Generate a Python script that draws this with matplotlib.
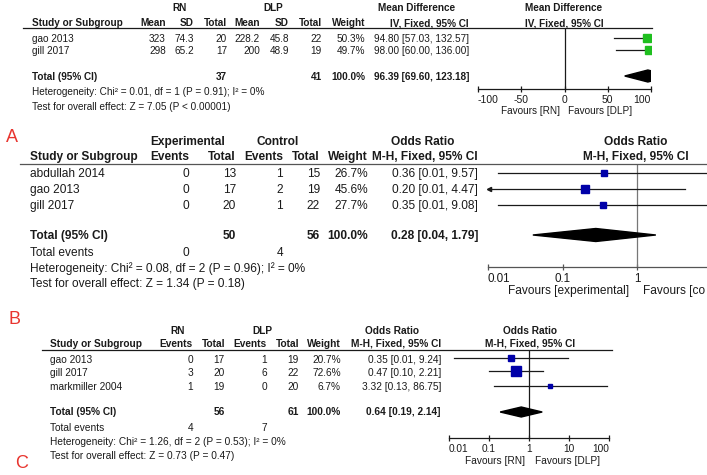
import numpy as np
import matplotlib.pyplot as plt
from matplotlib.lines import Line2D

plt.rcParams['font.family'] = ['Liberation Sans', 'DejaVu Sans']

W, H = 707, 475

# Panel A: mean difference, RN vs DLP
a_studies = ['gao 2013', 'gill 2017']
a_rn_mean = ['323', '298']
a_rn_sd = ['74.3', '65.2']
a_rn_n = [20, 17]
a_dlp_mean = ['228.2', '200']
a_dlp_sd = ['45.8', '48.9']
a_dlp_n = [22, 19]
a_weight = [50.3, 49.7]
a_est = [94.80, 98.00]
a_lo = [57.03, 60.00]
a_hi = [132.57, 136.00]
a_total = [96.39, 69.60, 123.18]
a_het = 'Heterogeneity: Chi² = 0.01, df = 1 (P = 0.91); I² = 0%'
a_test = 'Test for overall effect: Z = 7.05 (P < 0.00001)'
a_ticks = [-100, -50, 0, 50, 100]
a_ticklabels = ['-100', '-50', '0', '50', '100']

# Panel B: odds ratio, experimental vs control
b_studies = ['abdullah 2014', 'gao 2013', 'gill 2017']
b_exp_events = [0, 0, 0]
b_exp_n = [13, 17, 20]
b_ctl_events = [1, 2, 1]
b_ctl_n = [15, 19, 22]
b_weight = [26.7, 45.6, 27.7]
b_est = [0.36, 0.20, 0.35]
b_lo = [0.0136, 0.009, 0.0136]
b_hi = [9.57, 4.47, 9.08]
b_total = [0.28, 0.04, 1.79]
b_het = 'Heterogeneity: Chi² = 0.08, df = 2 (P = 0.96); I² = 0%'
b_test = 'Test for overall effect: Z = 1.34 (P = 0.18)'
b_ticks = [0.01, 0.1, 1]          # 10 and 100 fall outside the cropped picture
b_ticklabels = ['0.01', '0.1', '1']

# Panel C: odds ratio, RN vs DLP
c_studies = ['gao 2013', 'gill 2017', 'markmiller 2004']
c_rn_events = [0, 3, 1]
c_rn_n = [17, 20, 19]
c_dlp_events = [1, 6, 0]
c_dlp_n = [19, 22, 20]
c_weight = [20.7, 72.6, 6.7]
c_est = [0.35, 0.47, 3.32]
c_lo = [0.0133, 0.10, 0.13]
c_hi = [9.24, 2.21, 86.75]
c_total = [0.64, 0.19, 2.14]
c_het = 'Heterogeneity: Chi² = 1.26, df = 2 (P = 0.53); I² = 0%'
c_test = 'Test for overall effect: Z = 0.73 (P = 0.47)'
c_ticks = [0.01, 0.1, 1, 10, 100]
c_ticklabels = ['0.01', '0.1', '1', '10', '100']

fig = plt.figure(figsize=(W / 100, H / 100), dpi=100)
fig.patch.set_facecolor('white')
INK = '#1a1a1a'


def txt(x, y, s, ha='left', bold=False, size=7.3, color=INK):
    fig.text(x / W, 1 - y / H, s, ha=ha, va='center', fontsize=size,
             fontweight='bold' if bold else 'normal', color=color)


def hline(x0, x1, y, color=INK, lw=0.9):
    fig.add_artist(Line2D([x0 / W, x1 / W], [1 - y / H, 1 - y / H], color=color, lw=lw))


def ci_text(est, lo, hi, dec=2):
    return f'{est:.{dec}f} [{lo:.{dec}f}, {hi:.{dec}f}]'


def forest(x0, x1, y_top, y_bot, xlim, ticks, labels, rows, est, lo, hi, weight,
           total, total_y, sq_color, line_color=INK, null_color=INK, log=False,
           tick_size=7.3, diamond_h=12, sq_k=1.15, align_last=True):
    ax = fig.add_axes([x0 / W, 1 - y_bot / H, (x1 - x0) / W, (y_bot - y_top) / H])
    ax.patch.set_alpha(0)
    if log:
        ax.set_xscale('log')
    ax.set_xlim(xlim)
    ax.set_ylim(y_bot, y_top)
    for s in ['top', 'left', 'right']:
        ax.spines[s].set_visible(False)
    ax.spines['bottom'].set_color(line_color)
    ax.spines['bottom'].set_linewidth(0.9)
    ax.set_yticks([])
    ax.set_xticks(ticks)
    ax.set_xticklabels(labels)
    ax.minorticks_off()
    ax.tick_params(axis='x', direction='inout', length=5, width=0.9, pad=2,
                   labelsize=tick_size, colors=line_color, labelcolor=INK)
    # end labels sit inside the scale, as RevMan draws them
    tl = ax.get_xticklabels()
    tl[0].set_ha('left')
    if align_last:
        tl[-1].set_ha('right')
    null = 1 if log else 0
    ax.axvline(null, color=null_color, lw=0.9)
    for y, e, l, h, w in zip(rows, est, lo, hi, weight):
        yy = y - 1.5
        ax.plot([l, h], [yy, yy], color=INK, lw=0.9)
        if l < xlim[0]:
            ax.plot(xlim[0] * (1.04 if log else 1), yy, marker='<', ms=3, color=INK,
                    clip_on=False)
        ax.plot(e, yy, marker='s', ms=sq_k * np.sqrt(w) * 0.72, color=sq_color,
                mec=sq_color, zorder=3)
    te, tlo, thi = total
    ax.fill([tlo, te, thi, te], [total_y, total_y - diamond_h / 2, total_y,
                                 total_y + diamond_h / 2], color='black', zorder=3)
    return ax


# ---------------- Panel A ----------------
fa = 7.2
txt(179, 8, 'RN', 'center', True, fa)
txt(273, 8, 'DLP', 'center', True, fa)
txt(417, 8, 'Mean Difference', 'center', True, fa)
txt(564, 8, 'Mean Difference', 'center', True, fa)
txt(32, 23, 'Study or Subgroup', 'left', True, fa)
for x, s in zip([166, 194, 227, 260, 289, 322, 365],
                ['Mean', 'SD', 'Total', 'Mean', 'SD', 'Total', 'Weight']):
    txt(x, 23, s, 'right', True, fa)
txt(469, 23, 'IV, Fixed, 95% CI', 'right', True, fa)
txt(564, 23, 'IV, Fixed, 95% CI', 'center', True, fa)
hline(23, 652, 28)
a_rows = [39, 51]
for i, y in enumerate(a_rows):
    txt(32, y, a_studies[i], size=fa)
    txt(166, y, a_rn_mean[i], 'right', size=fa)
    txt(194, y, a_rn_sd[i], 'right', size=fa)
    txt(227, y, str(a_rn_n[i]), 'right', size=fa)
    txt(260, y, a_dlp_mean[i], 'right', size=fa)
    txt(289, y, a_dlp_sd[i], 'right', size=fa)
    txt(322, y, str(a_dlp_n[i]), 'right', size=fa)
    txt(365, y, f'{a_weight[i]:.1f}%', 'right', size=fa)
    txt(469, y, ci_text(a_est[i], a_lo[i], a_hi[i]), 'right', size=fa)
txt(32, 77, 'Total (95% CI)', bold=True, size=fa)
txt(227, 77, str(sum(a_rn_n)), 'right', True, fa)
txt(322, 77, str(sum(a_dlp_n)), 'right', True, fa)
txt(365, 77, f'{sum(a_weight):.1f}%', 'right', True, fa)
txt(469, 77, ci_text(*a_total), 'right', True, fa)
txt(32, 92, a_het, size=fa)
txt(32, 107, a_test, size=fa)
forest(478, 651, 28, 89, (-100, 100), a_ticks, a_ticklabels, a_rows, a_est, a_lo,
       a_hi, a_weight, a_total, 76, '#1fbf1f', tick_size=7.5, diamond_h=12)
txt(560, 111, 'Favours [RN]', 'right', size=fa)
txt(568, 111, 'Favours [DLP]', 'left', size=fa)

# ---------------- Panel B ----------------
fb = 8.6
GREY = '#555555'
txt(188, 142, 'Experimental', 'center', True, fb)
txt(278, 142, 'Control', 'center', True, fb)
txt(423, 142, 'Odds Ratio', 'center', True, fb)
txt(636, 142, 'Odds Ratio', 'center', True, fb)
txt(30, 157, 'Study or Subgroup', 'left', True, fb)
for x, s in zip([189, 236, 283, 320, 368],
                ['Events', 'Total', 'Events', 'Total', 'Weight']):
    txt(x, 157, s, 'right', True, fb)
txt(478, 157, 'M-H, Fixed, 95% CI', 'right', True, fb)
txt(636, 157, 'M-H, Fixed, 95% CI', 'center', True, fb)
hline(20, 707, 164, GREY)
b_rows = [174, 190, 206]
for i, y in enumerate(b_rows):
    txt(30, y, b_studies[i], size=fb)
    txt(189, y, str(b_exp_events[i]), 'right', size=fb)
    txt(236, y, str(b_exp_n[i]), 'right', size=fb)
    txt(283, y, str(b_ctl_events[i]), 'right', size=fb)
    txt(320, y, str(b_ctl_n[i]), 'right', size=fb)
    txt(368, y, f'{b_weight[i]:.1f}%', 'right', size=fb)
    txt(478, y, ci_text(b_est[i], b_lo[i], b_hi[i]), 'right', size=fb)
txt(30, 236, 'Total (95% CI)', bold=True, size=fb)
txt(236, 236, str(sum(b_exp_n)), 'right', True, fb)
txt(320, 236, str(sum(b_ctl_n)), 'right', True, fb)
txt(368, 236, f'{sum(b_weight):.1f}%', 'right', True, fb)
txt(478, 236, ci_text(*b_total), 'right', True, fb)
txt(30, 253, 'Total events', size=fb)
txt(189, 253, str(sum(b_exp_events)), 'right', size=fb)
txt(283, 253, str(sum(b_ctl_events)), 'right', size=fb)
txt(30, 269, b_het, size=fb)
txt(30, 284, b_test, size=fb)
forest(488, 786, 164, 267, (0.01, 100), b_ticks, b_ticklabels, b_rows, b_est, b_lo,
       b_hi, b_weight, b_total, 235, '#0000a8', line_color=GREY, null_color='#777777',
       log=True, tick_size=8.4, diamond_h=13, align_last=False)
txt(629, 291, 'Favours [experimental]', 'right', size=fb)
txt(643, 291, 'Favours [co', 'left', size=fb)   # cropped in the source image

# ---------------- Panel C ----------------
fc = 7.3
txt(178, 331, 'RN', 'center', True, fc)
txt(262, 331, 'DLP', 'center', True, fc)
txt(392, 331, 'Odds Ratio', 'center', True, fc)
txt(530, 331, 'Odds Ratio', 'center', True, fc)
txt(50, 344, 'Study or Subgroup', 'left', True, fc)
for x, s in zip([193, 225, 267, 299, 341],
                ['Events', 'Total', 'Events', 'Total', 'Weight']):
    txt(x, 344, s, 'right', True, fc)
txt(441, 344, 'M-H, Fixed, 95% CI', 'right', True, fc)
txt(530, 344, 'M-H, Fixed, 95% CI', 'center', True, fc)
hline(42, 612, 350)
c_rows = [360, 373, 387]
for i, y in enumerate(c_rows):
    txt(50, y, c_studies[i], size=fc)
    txt(193, y, str(c_rn_events[i]), 'right', size=fc)
    txt(225, y, str(c_rn_n[i]), 'right', size=fc)
    txt(267, y, str(c_dlp_events[i]), 'right', size=fc)
    txt(299, y, str(c_dlp_n[i]), 'right', size=fc)
    txt(341, y, f'{c_weight[i]:.1f}%', 'right', size=fc)
    txt(441, y, ci_text(c_est[i], c_lo[i], c_hi[i]), 'right', size=fc)
txt(50, 412, 'Total (95% CI)', bold=True, size=fc)
txt(225, 412, str(sum(c_rn_n)), 'right', True, fc)
txt(299, 412, str(sum(c_dlp_n)), 'right', True, fc)
txt(341, 412, f'{sum(c_weight):.1f}%', 'right', True, fc)
txt(441, 412, ci_text(*c_total), 'right', True, fc)
txt(50, 428, 'Total events', size=fc)
txt(193, 428, str(sum(c_rn_events)), 'right', size=fc)
txt(267, 428, str(sum(c_dlp_events)), 'right', size=fc)
txt(50, 442, c_het, size=fc)
txt(50, 456, c_test, size=fc)
forest(449, 609, 350, 438, (0.01, 100), c_ticks, c_ticklabels, c_rows, c_est, c_lo,
       c_hi, c_weight, c_total, 412, '#0000a8', log=True, tick_size=7.3,
       diamond_h=10, sq_k=1.25)
txt(525, 461, 'Favours [RN]', 'right', size=fc)
txt(535, 461, 'Favours [DLP]', 'left', size=fc)

# panel letters
for x, y, s in [(12, 138, 'A'), (15, 320, 'B'), (22, 463, 'C')]:
    txt(x, y, s, 'center', size=13, color='#e8352f')

plt.savefig('out.png', dpi=100)
